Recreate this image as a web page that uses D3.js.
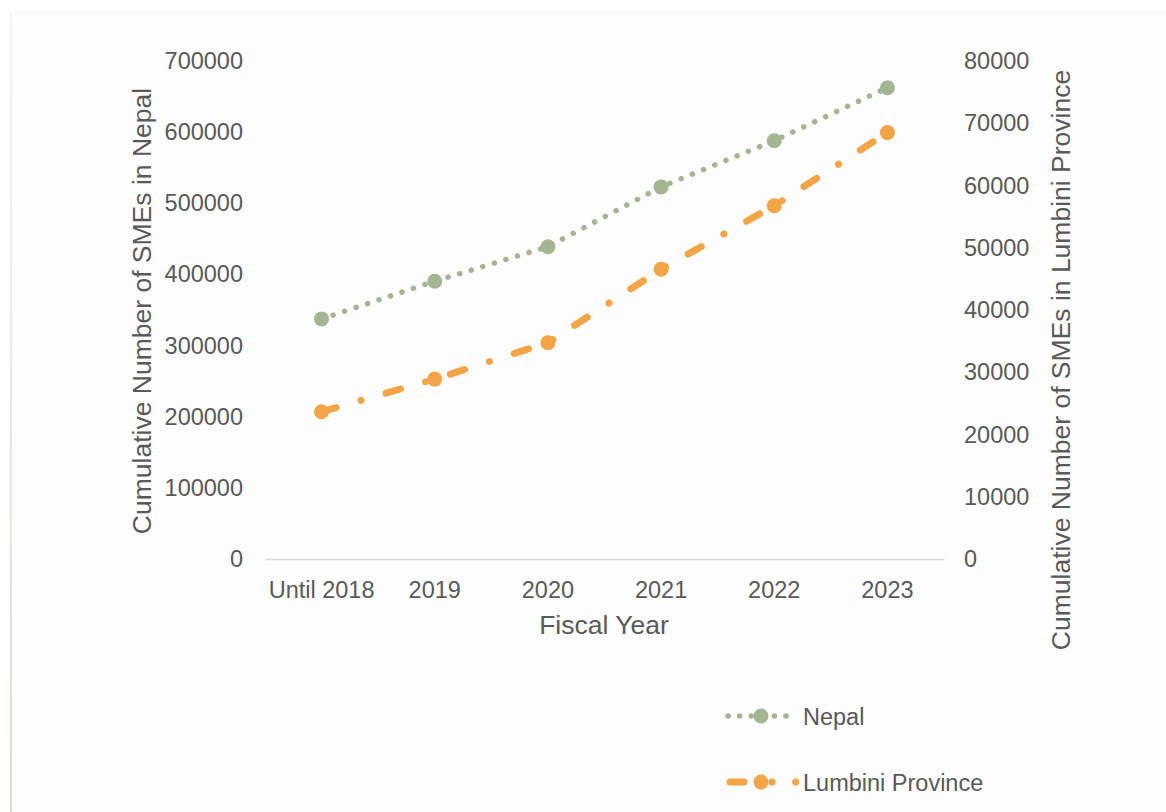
<!DOCTYPE html>
<html>
<head>
<meta charset="utf-8">
<script src="https://cdn.jsdelivr.net/npm/d3@7"></script>
<style>
  body { margin: 0; background: #ffffff; }
  svg { display: block; font-family: "Liberation Sans", Arial, sans-serif; }
</style>
</head>
<body>
<div id="chart"></div>
<script>
// data
var years = ["Until 2018", "2019", "2020", "2021", "2022", "2023"];
var nepalValues = [337500, 390500, 439000, 523000, 588000, 662500];
var lumbiniValues = [23650, 28900, 34750, 46550, 56750, 68500];
var leftTicks = [0, 100000, 200000, 300000, 400000, 500000, 600000, 700000];
var rightTicks = [0, 10000, 20000, 30000, 40000, 50000, 60000, 70000, 80000];

var width = 1166, height = 812,
	green = "#A5B592", orange = "#F3A447", textColor = "#595959";

var svg = d3.select("#chart").append("svg")
	.attr("width", width)
	.attr("height", height);

// faint frame of the chart area (left edge darkens towards the bottom)
var grad = svg.append("defs").append("linearGradient")
	.attr("id", "edge").attr("x1", 0).attr("y1", 0).attr("x2", 0).attr("y2", 1);
grad.append("stop").attr("offset", "0%").attr("stop-color", "#f4f4f2");
grad.append("stop").attr("offset", "100%").attr("stop-color", "#d9dfcc");

svg.append("rect")
	.attr("x", 11).attr("y", 13).attr("width", width).attr("height", height)
	.attr("fill", "#fdfdfd")
	.attr("stroke", "#f3f3f1");
svg.append("rect")
	.attr("x", 10).attr("y", 13).attr("width", 2).attr("height", height - 13)
	.attr("fill", "url(#edge)");

var plot = { left: 265, right: 944, top: 61, bottom: 559 };

var x = d3.scaleBand().domain(years).range([plot.left, plot.right]);
var yLeft = d3.scaleLinear().domain([0, 700000]).range([plot.bottom, plot.top]);
var yRight = d3.scaleLinear().domain([0, 80000]).range([plot.bottom, plot.top]);

function cx(d, i) { return x(years[i]) + x.bandwidth() / 2; }

// x axis
var xAxis = svg.append("g")
	.attr("transform", "translate(0," + plot.bottom + ")")
	.call(d3.axisBottom(x).tickSize(0).tickPadding(22));
xAxis.select(".domain").attr("stroke", "#d9d9d9").attr("stroke-width", 1.5);
xAxis.selectAll("text").attr("fill", textColor).style("font-size", "23.5px");

// left axis
var lAxis = svg.append("g")
	.attr("transform", "translate(243,0)")
	.call(d3.axisLeft(yLeft).tickValues(leftTicks).tickSize(0).tickPadding(0).tickFormat(d3.format("d")));
lAxis.select(".domain").remove();
lAxis.selectAll("text").attr("fill", textColor).style("font-size", "23.5px");

// right axis
var rAxis = svg.append("g")
	.attr("transform", "translate(964,0)")
	.call(d3.axisRight(yRight).tickValues(rightTicks).tickSize(0).tickPadding(0).tickFormat(d3.format("d")));
rAxis.select(".domain").remove();
rAxis.selectAll("text").attr("fill", textColor).style("font-size", "23.5px");

// axis titles
svg.append("text")
	.attr("x", 604).attr("y", 634)
	.attr("text-anchor", "middle")
	.attr("fill", textColor).style("font-size", "26.5px")
	.text("Fiscal Year");

svg.append("text")
	.attr("transform", "translate(151,311) rotate(-90)")
	.attr("text-anchor", "middle")
	.attr("fill", textColor).style("font-size", "26.5px")
	.text("Cumulative Number of SMEs in Nepal");

svg.append("text")
	.attr("transform", "translate(1070,360) rotate(-90)")
	.attr("text-anchor", "middle")
	.attr("fill", textColor).style("font-size", "26.5px")
	.text("Cumulative Number of SMEs in Lumbini Province");

// series
var nepalLine = d3.line().x(cx).y(function (d) { return yLeft(d); });
var lumbiniLine = d3.line().x(cx).y(function (d) { return yRight(d); });

svg.append("path")
	.datum(nepalValues)
	.attr("d", nepalLine)
	.attr("fill", "none")
	.attr("stroke", green)
	.attr("stroke-width", 5.5)
	.attr("stroke-linecap", "round")
	.attr("stroke-dasharray", "0.1 12");

svg.append("path")
	.datum(lumbiniValues)
	.attr("d", lumbiniLine)
	.attr("fill", "none")
	.attr("stroke", orange)
	.attr("stroke-width", 7)
	.attr("stroke-linecap", "round")
	.attr("stroke-dasharray", "15 26 0.1 26");

svg.selectAll(".nepal-dot")
	.data(nepalValues)
	.enter().append("circle")
	.attr("cx", cx)
	.attr("cy", function (d) { return yLeft(d); })
	.attr("r", 7.5)
	.attr("fill", green);

svg.selectAll(".lumbini-dot")
	.data(lumbiniValues)
	.enter().append("circle")
	.attr("cx", cx)
	.attr("cy", function (d) { return yRight(d); })
	.attr("r", 7.5)
	.attr("fill", orange);

// legend
var legend = [
	{ name: "Nepal", color: green, y: 716, width: 5.5, dash: "0.1 11.5", x1: 728, x2: 792 },
	{ name: "Lumbini Province", color: orange, y: 782, width: 7, dash: "14 28 0.1 23.5 0.1 100", x1: 730, x2: 797 }
];
var items = svg.selectAll(".legend")
	.data(legend)
	.enter().append("g");
items.append("line")
	.attr("x1", function (d) { return d.x1; })
	.attr("x2", function (d) { return d.x2; })
	.attr("y1", function (d) { return d.y; })
	.attr("y2", function (d) { return d.y; })
	.attr("stroke", function (d) { return d.color; })
	.attr("stroke-width", function (d) { return d.width; })
	.attr("stroke-linecap", "round")
	.attr("stroke-dasharray", function (d) { return d.dash; });
items.append("circle")
	.attr("cx", 761)
	.attr("cy", function (d) { return d.y; })
	.attr("r", 7.5)
	.attr("fill", function (d) { return d.color; });
items.append("text")
	.attr("x", 803)
	.attr("y", function (d) { return d.y + 8.5; })
	.attr("fill", textColor)
	.style("font-size", "23.5px")
	.text(function (d) { return d.name; });
</script>
</body>
</html>
